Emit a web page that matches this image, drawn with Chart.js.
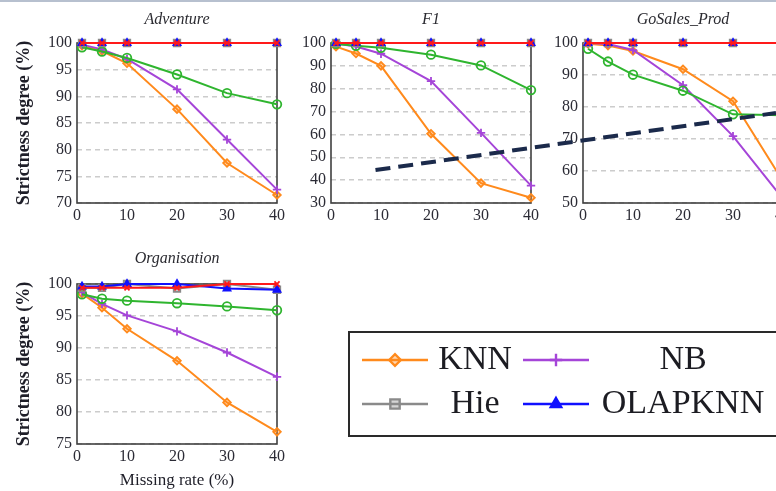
<!DOCTYPE html>
<html>
<head>
<meta charset="utf-8">
<script src="https://cdn.jsdelivr.net/npm/chart.js@4.4.1/dist/chart.umd.min.js"></script>
<style>
  html, body { margin: 0; padding: 0; }
  body { width: 776px; height: 491px; overflow: hidden; position: relative; background: #fff; }
  #topline { position: absolute; left: 0; top: 0; width: 776px; height: 2px; background: #b7c0cf; }
  canvas.plot { position: absolute; }
  #legend { position: absolute; left: 348px; top: 331px; width: 520px; height: 106px; border: 2px solid #2a2a2a;
            box-sizing: border-box; font-family: "Liberation Serif", serif; font-size: 34px; color: #1c1c22; }
  #legend canvas { position: absolute; }
  #legend .txt { position: absolute; width: 190px; text-align: center; line-height: 34px; white-space: nowrap; }
</style>
</head>
<body>
<div id="topline"></div>
<canvas id="cGo" class="plot" width="265" height="230" style="left:533px;top:0;z-index:1"></canvas>
<canvas id="cAdv" class="plot" width="292" height="230" style="left:0;top:0;z-index:2"></canvas>
<canvas id="cF1" class="plot" width="507" height="230" style="left:280px;top:0;z-index:3"></canvas>
<canvas id="cOrg" class="plot" width="292" height="251" style="left:0;top:240px;z-index:2"></canvas>
<div id="legend"></div>

<script>
// ---------- data ----------
const missingRates = [1, 5, 10, 20, 30, 40];

const advKNN   = [99.5, 98.5, 96.2, 87.6, 77.5, 71.5];
const advNB    = [99.7, 98.8, 97.0, 91.3, 81.9, 72.5];
const advHie   = [100, 100, 100, 100, 100, 100];
const advOLAP  = [100, 100, 100, 100, 100, 100];
const advM5    = [99.2, 98.4, 97.2, 94.1, 90.6, 88.5];
const advM6    = [100, 100, 100, 100, 100, 100];

const f1KNN    = [98.4, 95.4, 90.0, 60.3, 38.7, 32.3];
const f1NB     = [99.8, 98.5, 95.3, 83.3, 60.7, 37.6];
const f1Hie    = [100, 100, 100, 100, 100, 100];
const f1OLAP   = [100, 100, 100, 100, 100, 100];
const f1M5     = [99.6, 98.8, 97.9, 94.9, 90.2, 79.4];
const f1M6     = [100, 100, 100, 100, 100, 100];

const goKNN    = [99.8, 99.2, 97.5, 91.8, 81.8, 56.8];
const goNB     = [100, 99.7, 97.8, 86.8, 70.9, 51.3];
const goHie    = [100, 100, 100, 100, 100, 100];
const goOLAP   = [100, 100, 100, 100, 100, 100];
const goM5     = [98.2, 94.2, 90.1, 85.1, 77.7, 77.4];
const goM6     = [100, 100, 100, 100, 100, 100];

const orgKNN   = [98.5, 96.3, 93.0, 88.0, 81.5, 76.9];
const orgNB    = [98.7, 96.9, 95.1, 92.6, 89.3, 85.5];
const orgHie   = [99.4, 99.4, 100, 99.3, 100, 99.1];
const orgOLAP  = [99.6, 99.6, 100, 100, 99.3, 99.1];
const orgM5    = [98.4, 97.7, 97.4, 97.0, 96.5, 95.9];
const orgM6    = [99.4, 99.4, 99.4, 99.4, 100, 100];

// dashed trend line drawn over the figure (in F1 axis units)
const trendX = [8.9, 89];
const trendY = [44.4, 69.4];

// ---------- styles ----------
const SERIF = '"Liberation Serif", serif';
const TICK_COLOR = '#2b2b35';

const styles = {
  knn:  { label: 'KNN',     color: '#ff8a1c', fill: 'rgba(255,138,28,0.35)', pointStyle: 'rectRot',  radius: 3.8, order: 6 },
  nb:   { label: 'NB',      color: '#a545d8', fill: '#a545d8',               pointStyle: 'cross',    radius: 4.2, order: 5 },
  m5:   { label: 'M5',      color: '#2fb52f', fill: 'rgba(255,255,255,0)',   pointStyle: 'circle',   radius: 4.3, order: 4 },
  hie:  { label: 'Hie',     color: '#8a8a8a', fill: 'rgba(138,138,138,0.35)', pointStyle: 'rect',    radius: 4.6, order: 3 },
  olap: { label: 'OLAPKNN', color: '#1010ff', fill: '#1010ff',               pointStyle: 'triangle', radius: 4,   order: 2 },
  m6:   { label: 'M6',      color: '#ff1a1a', fill: '#ff1a1a',               pointStyle: 'crossRot', radius: 3.6, order: 1 }
};

function ds(st, values) {
  return {
    label: st.label,
    data: missingRates.map((x, i) => ({ x: x, y: values[i] })),
    borderColor: st.color,
    backgroundColor: st.fill,
    borderWidth: 2,
    pointStyle: st.pointStyle,
    pointRadius: st.radius,
    pointBorderWidth: 1.8,
    pointBorderColor: st.color,
    pointBackgroundColor: st.fill,
    order: st.order,
    clip: false
  };
}

// frame round the plot area
const framePlugin = {
  id: 'frame',
  beforeDatasetsDraw(chart) {
    const { ctx, chartArea: a } = chart;
    ctx.save();
    ctx.strokeStyle = '#404040';
    ctx.lineWidth = 1.6;
    ctx.strokeRect(a.left, a.top, a.right - a.left, a.bottom - a.top);
    ctx.restore();
  }
};

function makeChart(id, o) {
  const datasets = [
    ds(styles.knn, o.knn), ds(styles.nb, o.nb), ds(styles.m5, o.m5),
    ds(styles.hie, o.hie), ds(styles.olap, o.olap), ds(styles.m6, o.m6)
  ];
  if (o.extra) datasets.push(o.extra);

  return new Chart(document.getElementById(id), {
    type: 'line',
    data: { datasets: datasets },
    plugins: [framePlugin],
    options: {
      responsive: false,
      animation: false,
      layout: { padding: { left: 0, right: o.padRight, top: 0, bottom: 0 } },
      plugins: {
        legend: { display: false },
        tooltip: { enabled: false },
        title: {
          display: true, text: o.title, fullSize: false, color: '#2a2a30',
          font: { family: SERIF, size: 16, style: 'italic', weight: 'normal' },
          padding: { top: o.titleTop, bottom: o.titleBottom }
        }
      },
      scales: {
        x: {
          type: 'linear', min: 0, max: 40,
          ticks: { stepSize: 10, color: TICK_COLOR, padding: 3, maxRotation: 0, font: { family: SERIF, size: 16 } },
          grid: { display: false, drawTicks: false },
          border: { display: false },
          title: {
            display: !!o.xTitle, text: o.xTitle || '', color: '#1e1e28',
            font: { family: SERIF, size: 17 }, padding: { top: 0, bottom: 0 }
          },
          afterFit: s => { s.height = o.xh; }
        },
        y: {
          min: o.ymin, max: 100,
          ticks: { stepSize: o.ystep, color: TICK_COLOR, padding: 5, font: { family: SERIF, size: 16 } },
          grid: { color: '#cccccc', lineWidth: 1.5, drawTicks: false },
          border: { display: false, dash: [5, 4] },
          title: {
            display: !!o.yTitle, text: o.yTitle || '', color: '#1e1e28',
            font: { family: SERIF, size: 18, weight: 'bold' }, padding: { top: 14, bottom: 0 }
          },
          afterFit: s => { s.width = o.yw; }
        }
      }
    }
  });
}

makeChart('cAdv', {
  title: 'Adventure', knn: advKNN, nb: advNB, hie: advHie, olap: advOLAP, m5: advM5, m6: advM6,
  ymin: 70, ystep: 5, yw: 77, xh: 27, padRight: 15, titleTop: 10, titleBottom: 13.8,
  yTitle: 'Strictness degree (%)'
});

makeChart('cGo', {
  title: 'GoSales_Prod', knn: goKNN, nb: goNB, hie: goHie, olap: goOLAP, m5: goM5, m6: goM6,
  ymin: 50, ystep: 10, yw: 50, xh: 27, padRight: 15, titleTop: 10, titleBottom: 13.8
});

makeChart('cF1', {
  title: 'F1', knn: f1KNN, nb: f1NB, hie: f1Hie, olap: f1OLAP, m5: f1M5, m6: f1M6,
  ymin: 30, ystep: 10, yw: 51, xh: 27, padRight: 256, titleTop: 10, titleBottom: 13.8,
  extra: {
    label: 'trend',
    data: trendX.map((x, i) => ({ x: x, y: trendY[i] })),
    borderColor: '#1b2a4b', borderWidth: 4, borderDash: [15, 8],
    pointRadius: 0, order: 0, clip: false
  }
});

makeChart('cOrg', {
  title: 'Organisation', knn: orgKNN, nb: orgNB, hie: orgHie, olap: orgOLAP, m5: orgM5, m6: orgM6,
  ymin: 75, ystep: 5, yw: 77, xh: 47, padRight: 15, titleTop: 9, titleBottom: 15.8,
  yTitle: 'Strictness degree (%)', xTitle: 'Missing rate (%)'
});

// ---------- legend box ----------
const legendItems = [
  { st: styles.knn,  sx: 12,  tx: 30,  y: 27 },
  { st: styles.nb,   sx: 173, tx: 238, y: 27 },
  { st: styles.hie,  sx: 12,  tx: 30,  y: 71 },
  { st: styles.olap, sx: 173, tx: 238, y: 71 }
];
const legendBox = document.getElementById('legend');
legendItems.forEach(it => {
  const cv = document.createElement('canvas');
  cv.width = 66; cv.height = 24;
  cv.style.left = it.sx + 'px';
  cv.style.top = (it.y - 12) + 'px';
  legendBox.appendChild(cv);
  const ctx = cv.getContext('2d');
  ctx.strokeStyle = it.st.color;
  ctx.fillStyle = it.st.fill;
  ctx.lineWidth = 2.4;
  ctx.beginPath(); ctx.moveTo(0, 12); ctx.lineTo(66, 12); ctx.stroke();
  Chart.helpers.drawPoint(ctx, { pointStyle: it.st.pointStyle, radius: it.st.radius + 2, borderWidth: 2.4, rotation: 0 }, 33, 12);

  const t = document.createElement('div');
  t.className = 'txt';
  t.textContent = it.st.label;
  t.style.left = it.tx + 'px';
  t.style.top = (it.y - 19) + 'px';
  legendBox.appendChild(t);
});
</script>
</body>
</html>
